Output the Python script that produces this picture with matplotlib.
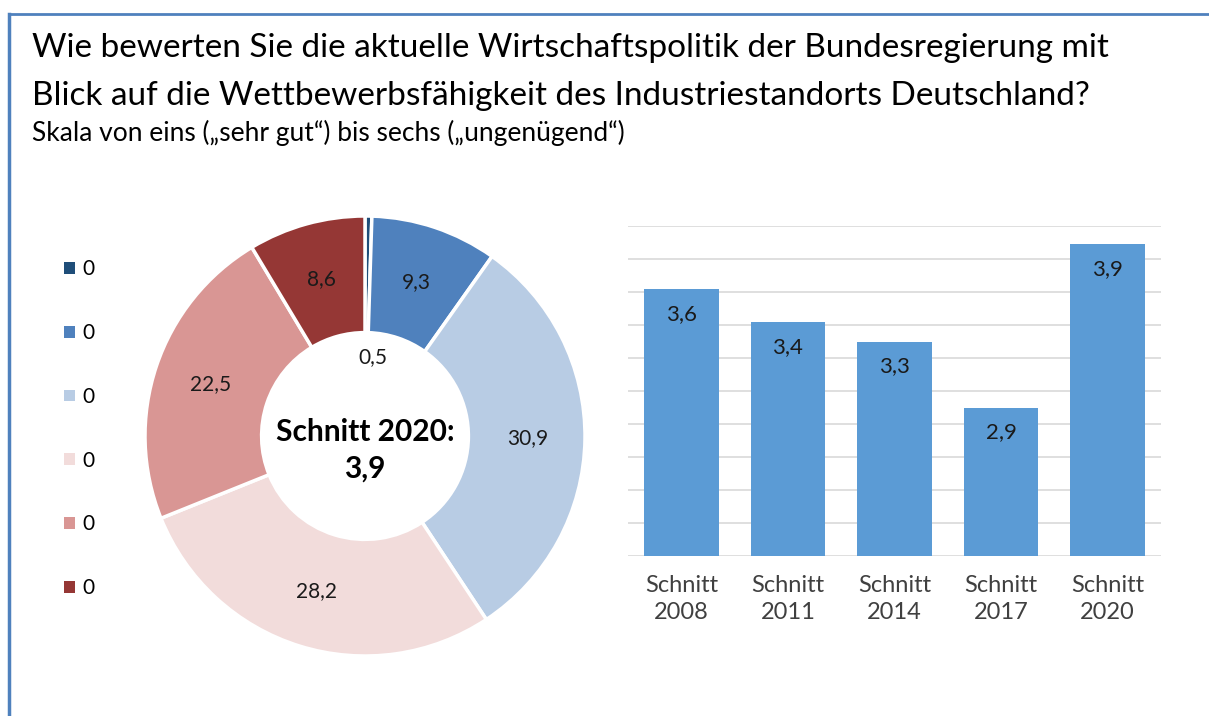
import numpy as np
import matplotlib.pyplot as plt
from matplotlib.lines import Line2D
from matplotlib.patches import Patch

plt.rcParams['font.family'] = ['Lato', 'DejaVu Sans']

# Verteilung der Noten 2020 (Anteile in Prozent), von "sehr gut" bis "ungenügend"
noten_anteile = [0.5, 9.3, 30.9, 28.2, 22.5, 8.6]
noten_farben = ['#1F4E79', '#4F81BD', '#B8CCE4', '#F2DCDB', '#D99694', '#953735']
legenden_text = ['0', '0', '0', '0', '0', '0']

# Durchschnittsnoten der Umfragen
jahre = ['Schnitt\n2008', 'Schnitt\n2011', 'Schnitt\n2014', 'Schnitt\n2017', 'Schnitt\n2020']
schnitt = [3.62, 3.42, 3.30, 2.90, 3.89]

W, H = 1209, 716
fig = plt.figure(figsize=(W/100, H/100), dpi=100)

# Rahmen (oben und links)
fig.add_artist(Line2D([9/W, 1], [1 - 14/H, 1 - 14/H], color='#4F81BD', lw=2))
fig.add_artist(Line2D([9/W, 9/W], [0, 1 - 14/H], color='#4F81BD', lw=2.5))

# Titel
fig.text(32/W, 1 - 48/H, 'Wie bewerten Sie die aktuelle Wirtschaftspolitik der Bundesregierung mit',
         fontsize=24, va='center', ha='left', color='black')
fig.text(32/W, 1 - 96/H, 'Blick auf die Wettbewerbsfähigkeit des Industriestandorts Deutschland?',
         fontsize=24, va='center', ha='left', color='black')
fig.text(32/W, 1 - 133/H, 'Skala von eins („sehr gut“) bis sechs („ungenügend“)',
         fontsize=19, va='center', ha='left', color='black')

# Ring-Diagramm
ax1 = fig.add_axes([145/W, 1 - 656/H, 440/W, 440/H])
labels = [('%.1f' % v).replace('.', ',') for v in noten_anteile]
wedges, texts = ax1.pie(noten_anteile, colors=noten_farben, startangle=90, counterclock=False,
                        labels=labels, labeldistance=0.74,
                        wedgeprops=dict(width=0.53, edgecolor='white', linewidth=2.5),
                        textprops=dict(fontsize=15, color='#1a1a1a', ha='center', va='center'))
# kleines Segment: Beschriftung ins Innere
x0, y0 = texts[0].get_position()
texts[0].set_position((x0 * 0.5 + 0.03, y0 * 0.5 - 0.01))
ax1.set_xlim(-1, 1)
ax1.set_ylim(-1, 1)
ax1.set_aspect('equal')
ax1.text(0, 0.02, 'Schnitt 2020:', fontsize=21.5, fontweight='bold', ha='center', va='center')
ax1.text(0, -0.15, ('%.1f' % schnitt[-1]).replace('.', ','), fontsize=21.5, fontweight='bold',
         ha='center', va='center')

handles = [Patch(facecolor=c) for c in noten_farben]
fig.legend(handles, legenden_text, loc='upper left', bbox_to_anchor=(54/W, 1 - 249/H),
           frameon=False, fontsize=15, handlelength=0.5, handleheight=0.5,
           handletextpad=0.35, labelspacing=2.1, borderpad=0)

# Balkendiagramm
ax2 = fig.add_axes([628/W, 1 - 556/H, 533/W, 330/H])
x = np.arange(len(jahre))
bars = ax2.bar(x, schnitt, width=0.7, color='#5B9BD5', zorder=2)
ax2.set_ylim(2.0, 4.0)
ax2.set_xlim(-0.5, len(jahre) - 0.5)
ax2.set_yticks(np.arange(2.0, 4.01, 0.2))
ax2.yaxis.grid(True, color='#D9D9D9', lw=1.2, zorder=0)
ax2.set_yticklabels([])
ax2.tick_params(length=0)
ax2.set_xticks(x)
ax2.set_xticklabels(jahre, fontsize=17, color='#404040', linespacing=1.3)
ax2.tick_params(axis='x', pad=14)
for s in ax2.spines.values():
    s.set_visible(False)
for b, v in zip(bars, schnitt):
    ax2.annotate(('%.1f' % v).replace('.', ','), (b.get_x() + b.get_width()/2, v),
                 xytext=(0, -18), textcoords='offset points', ha='center', va='center',
                 fontsize=16, color='#1a1a1a')

fig.savefig('out.png', dpi=100)
